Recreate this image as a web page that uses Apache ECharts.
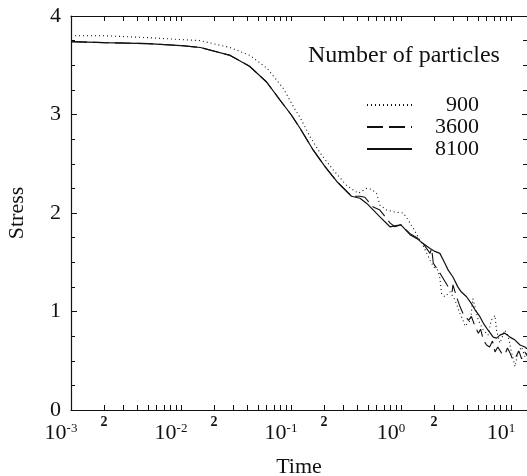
<!DOCTYPE html>
<html>
<head>
<meta charset="utf-8">
<script src="https://cdn.jsdelivr.net/npm/echarts@6/dist/echarts.min.js"></script>
<style>
html, body { margin: 0; padding: 0; background: #fff; }
#main { width: 527px; height: 476px; }
</style>
</head>
<body>
<div id="main"></div>
<script>
// values
const time900 = [0.001, 0.002, 0.005, 0.0149, 0.0279, 0.0424, 0.0605, 0.0846, 0.109, 0.121, 0.15, 0.184, 0.241, 0.32, 0.41, 0.486, 0.54, 0.6, 0.644, 0.74, 0.88, 1.05, 1.16, 1.30, 1.59, 1.84, 1.99, 2.16, 2.26, 2.34, 2.51, 2.79, 3.09, 3.44, 3.67, 3.83, 4.29, 4.51, 4.7, 5.06, 5.62, 6.2, 6.6, 7.16, 7.4, 7.94, 8.8, 9.4, 10.1, 10.9, 11.5, 12.5, 13.4, 14];
const stress900 = [3.80, 3.80, 3.78, 3.75, 3.68, 3.60, 3.47, 3.27, 3.05, 2.97, 2.77, 2.61, 2.44, 2.28, 2.20, 2.25, 2.24, 2.20, 2.08, 2.03, 2.01, 2.00, 1.93, 1.84, 1.67, 1.52, 1.45, 1.42, 1.34, 1.18, 1.15, 1.20, 1.12, 0.98, 0.91, 0.85, 0.91, 1.13, 1.05, 0.91, 0.81, 0.76, 0.91, 0.96, 0.81, 0.68, 0.81, 0.76, 0.59, 0.44, 0.58, 0.64, 0.54, 0.58];

const time3600 = [0.001, 0.002, 0.005, 0.01, 0.015, 0.028, 0.042, 0.06, 0.079, 0.1, 0.121, 0.159, 0.204, 0.261, 0.355, 0.424, 0.47, 0.52, 0.56, 0.644, 0.72, 0.794, 0.88, 1.0, 1.21, 1.4, 1.59, 1.84, 1.9, 1.97, 2.26, 2.69, 2.92, 2.97, 3.2, 3.44, 3.67, 4.12, 4.37, 4.71, 5.06, 5.3, 5.62, 6.0, 6.4, 6.8, 7.16, 7.6, 8.2, 8.8, 9.3, 9.8, 10.4, 11.1, 11.8, 12.5, 13.4, 14];
const stress3600 = [3.74, 3.73, 3.72, 3.70, 3.68, 3.60, 3.49, 3.33, 3.15, 3.00, 2.86, 2.64, 2.47, 2.32, 2.17, 2.17, 2.16, 2.10, 2.06, 2.03, 1.96, 1.90, 1.86, 1.88, 1.79, 1.75, 1.69, 1.59, 1.64, 1.49, 1.39, 1.25, 1.20, 1.27, 1.15, 1.05, 0.98, 0.91, 0.95, 0.85, 0.78, 0.82, 0.71, 0.66, 0.64, 0.70, 0.59, 0.64, 0.58, 0.56, 0.63, 0.58, 0.51, 0.54, 0.60, 0.52, 0.59, 0.55];

const time8100 = [0.001, 0.002, 0.005, 0.01, 0.015, 0.028, 0.042, 0.06, 0.079, 0.1, 0.121, 0.159, 0.204, 0.261, 0.355, 0.424, 0.486, 0.644, 0.794, 0.88, 1.0, 1.21, 1.4, 1.59, 1.84, 2.04, 2.26, 2.51, 2.69, 2.97, 3.29, 3.53, 3.95, 4.37, 4.7, 5.21, 5.62, 6.2, 6.9, 7.4, 7.94, 8.81, 9.8, 10.9, 12.1, 13.4, 14];
const stress8100 = [3.74, 3.73, 3.72, 3.70, 3.68, 3.60, 3.49, 3.33, 3.15, 3.00, 2.86, 2.64, 2.47, 2.32, 2.17, 2.15, 2.10, 1.96, 1.86, 1.87, 1.88, 1.78, 1.74, 1.69, 1.64, 1.61, 1.59, 1.49, 1.42, 1.35, 1.25, 1.20, 1.15, 1.08, 1.02, 0.95, 0.88, 0.81, 0.74, 0.73, 0.76, 0.78, 0.74, 0.71, 0.66, 0.64, 0.62];

const seriesNames = ['900', '3600', '8100'];
const decadeLabels = [0.001, 0.01, 0.1, 1, 10];
const twoLabels = [0.002, 0.02, 0.2, 2];
const yTicks = [0, 1, 2, 3, 4];

const FONT = 'Liberation Serif';
const INK = '#111';

// tick marks at 1..9 x 10^n inside the range
const minorTicks = [];
for (const d of decadeLabels) {
    for (let k = 1; k <= 9; k++) {
        const v = +(k * d).toPrecision(3);
        if (v <= 14) minorTicks.push(v);
    }
}

const pairs = (t, s) => t.map((x, i) => [x, s[i]]);

const chart = echarts.init(document.getElementById('main'));
chart.setOption({
    animation: false,
    backgroundColor: '#fff',
    title: {
        text: 'Number of particles',
        left: 303,
        top: 39,
        textStyle: {fontFamily: FONT, fontSize: 24, fontWeight: 'normal', color: INK}
    },
    legend: {
        data: seriesNames,
        orient: 'vertical',
        left: 361,
        top: 89,
        itemWidth: 45,
        itemHeight: 14,
        itemGap: 0,
        itemStyle: {color: 'rgba(0,0,0,0)', borderWidth: 0, opacity: 0},
        formatter: name => '{a|' + name + '}',
        textStyle: {
            fontFamily: FONT, fontSize: 22, color: INK,
            rich: {a: {width: 62, align: 'right', fontFamily: FONT, fontSize: 22, lineHeight: 23, color: INK}}
        }
    },
    grid: {left: 71, right: 0, top: 16, bottom: 66, outerBoundsMode: 'none', containLabel: false},
    xAxis: [
        {
            type: 'log', logBase: 10, min: 0.001, max: 14, position: 'bottom',
            name: 'Time', nameLocation: 'middle', nameGap: 46,
            nameTextStyle: {fontFamily: FONT, fontSize: 22, color: INK},
            axisLine: {show: true, lineStyle: {color: INK, width: 1.2}},
            axisTick: {show: true, inside: true, length: 5, customValues: minorTicks, lineStyle: {color: INK}},
            axisLabel: {
                customValues: decadeLabels,
                margin: 12,
                padding: [0, 20, 0, 0],
                formatter: v => '{b|10}{s|' + Math.round(Math.log10(v)) + '}',
                rich: {
                    b: {fontFamily: FONT, fontSize: 22, lineHeight: 22, color: INK, verticalAlign: 'middle'},
                    s: {fontFamily: FONT, fontSize: 13, lineHeight: 13, color: INK, verticalAlign: 'top'}
                }
            },
            splitLine: {show: false}
        },
        {
            type: 'log', logBase: 10, min: 0.001, max: 14, position: 'bottom',
            axisLine: {show: false},
            axisTick: {show: false},
            axisLabel: {
                customValues: twoLabels,
                margin: 5,
                formatter: () => '2',
                fontFamily: FONT, fontSize: 14, fontWeight: 'bold', color: INK
            },
            splitLine: {show: false}
        },
        {
            type: 'log', logBase: 10, min: 0.001, max: 14, position: 'top',
            axisLine: {show: true, lineStyle: {color: INK, width: 1.2}},
            axisTick: {show: true, inside: true, length: 5, customValues: minorTicks, lineStyle: {color: INK}},
            axisLabel: {show: false},
            splitLine: {show: false}
        }
    ],
    yAxis: [
        {
            type: 'value', min: 0, max: 4, interval: 1, position: 'left',
            name: 'Stress', nameLocation: 'middle', nameGap: 43, nameRotate: 90,
            nameTextStyle: {fontFamily: FONT, fontSize: 22, color: INK},
            axisLine: {show: true, lineStyle: {color: INK, width: 1.2}},
            axisTick: {show: true, inside: true, length: 6, customValues: yTicks, lineStyle: {color: INK}},
            minorTick: {show: true, splitNumber: 4, length: 4, lineStyle: {color: INK}},
            axisLabel: {
                customValues: yTicks, margin: 10,
                fontFamily: FONT, fontSize: 22, color: INK
            },
            splitLine: {show: false},
            minorSplitLine: {show: false}
        },
        {
            type: 'value', min: 0, max: 4, interval: 1, position: 'right',
            axisLine: {show: false},
            axisTick: {show: true, inside: true, length: 5, lineStyle: {color: INK}},
            minorTick: {show: true, splitNumber: 4, length: 4, lineStyle: {color: INK}},
            axisLabel: {show: false},
            splitLine: {show: false}
        }
    ],
    series: [
        {
            name: '900', type: 'line', symbol: 'none', xAxisIndex: 0, yAxisIndex: 0,
            data: pairs(time900, stress900),
            lineStyle: {color: INK, width: 1.1, type: [1, 3]},
            itemStyle: {color: INK}
        },
        {
            name: '3600', type: 'line', symbol: 'none', xAxisIndex: 0, yAxisIndex: 0,
            data: pairs(time3600, stress3600),
            lineStyle: {color: INK, width: 1.1, type: [16, 6]},
            itemStyle: {color: INK}
        },
        {
            name: '8100', type: 'line', symbol: 'none', xAxisIndex: 0, yAxisIndex: 0,
            data: pairs(time8100, stress8100),
            lineStyle: {color: INK, width: 1.2},
            itemStyle: {color: INK}
        }
    ]
});
</script>
</body>
</html>
